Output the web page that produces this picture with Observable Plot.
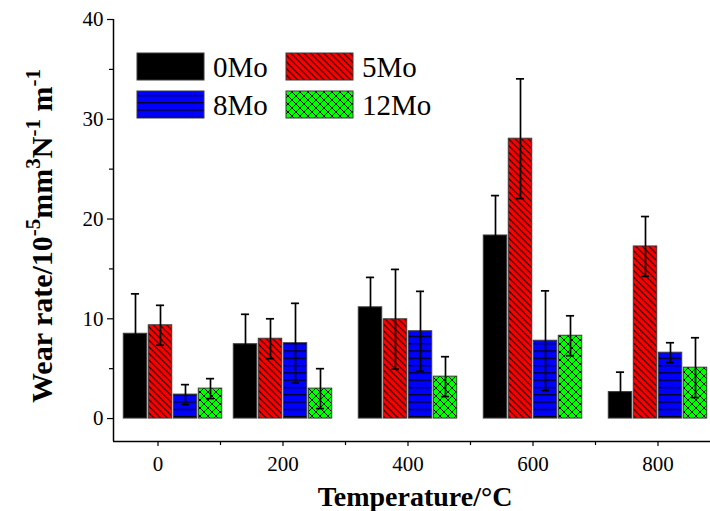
<!DOCTYPE html>
<html>
<head>
<meta charset="utf-8">
<script src="https://cdn.jsdelivr.net/npm/d3@7"></script>
<script src="https://cdn.jsdelivr.net/npm/@observablehq/plot@0.6"></script>
<style>
  html, body { margin: 0; padding: 0; background: #fff; }
  svg { display: block; }
</style>
</head>
<body>
<div id="chart"></div>
<script>
// ---- data ----
const temperatures = [0, 200, 400, 600, 800];
const seriesNames = ["0Mo", "5Mo", "8Mo", "12Mo"];
const wear0Mo  = [8.5, 7.45, 11.15, 18.35, 2.65];
const err0Mo   = [4.0, 3.0, 3.0, 4.0, 2.0];
const wear5Mo  = [9.35, 8.0, 9.95, 28.05, 17.25];
const err5Mo   = [2.0, 2.0, 5.0, 6.0, 3.0];
const wear8Mo  = [2.4, 7.55, 8.75, 7.8, 6.6];
const err8Mo   = [1.0, 4.0, 4.0, 5.0, 1.0];
const wear12Mo = [3.0, 3.0, 4.2, 8.3, 5.1];
const err12Mo  = [1.0, 2.0, 2.0, 2.0, 3.0];
const xTicks = [0, 200, 400, 600, 800];
const xMinorTicks = [100, 300, 500, 700];
const yTicks = [0, 10, 20, 30, 40];
const yMinorTicks = [5, 15, 25, 35];

// ---- layout constants ----
const W = 710, H = 511;
const xDomain = [-71.2, 884];
const yDomain = [-2.3, 40];
const firstGroupShift = 24;           // the 0 °C group sits slightly right of its tick
const barOffsets = [-60, -20, 20, 60]; // in x units, within a group
const barWidth = 37.5;
const capHalf = 6.5;
const fills = ["#000000", "url(#pat5)", "url(#pat8)", "url(#pat12)"];

const values = [wear0Mo, wear5Mo, wear8Mo, wear12Mo];
const errors = [err0Mo, err5Mo, err8Mo, err12Mo];
const rows = [];
seriesNames.forEach((s, si) => {
  temperatures.forEach((t, ti) => {
    const c = (t === 0 ? t + firstGroupShift : t) + barOffsets[si];
    rows.push({series: s, si, t, value: values[si][ti], err: errors[si][ti],
               x1: c - barWidth / 2, x2: c + barWidth / 2, xc: c});
  });
});

const serif = "Liberation Serif, Times New Roman, serif";

const marks = [];
seriesNames.forEach((s, si) => {
  marks.push(Plot.rectY(rows.filter(d => d.si === si), {
    x1: "x1", x2: "x2", y1: 0, y2: "value",
    fill: fills[si], stroke: "#3a3a3a", strokeWidth: 1
  }));
});
marks.push(
  Plot.ruleX(rows, {x: "xc", y1: d => d.value - d.err, y2: d => d.value + d.err, stroke: "#000", strokeWidth: 1.7}),
  Plot.ruleY(rows, {y: d => d.value + d.err, x1: d => d.xc - capHalf, x2: d => d.xc + capHalf, stroke: "#000", strokeWidth: 1.7}),
  Plot.ruleY(rows, {y: d => d.value - d.err, x1: d => d.xc - capHalf, x2: d => d.xc + capHalf, stroke: "#000", strokeWidth: 1.7}),
  Plot.ruleX([xDomain[0]], {y1: yDomain[0], y2: yDomain[1], stroke: "#000", strokeWidth: 1.5}),
  Plot.ruleY([yDomain[0]], {x1: xDomain[0], x2: xDomain[1], stroke: "#000", strokeWidth: 1.5}),
  Plot.axisY(yTicks, {tickSize: 6, tickPadding: 4, fontSize: 21, fontFamily: serif, fill: "#000", label: null, strokeWidth: 1.2}),
  Plot.axisY(yMinorTicks, {tickSize: 4, text: null, label: null, strokeWidth: 1.2}),
  Plot.axisX(xTicks, {anchor: "bottom", tickSize: 5, tickPadding: 10, fontSize: 21, fontFamily: serif, fill: "#000", label: null, strokeWidth: 1.2}),
  Plot.axisX(xMinorTicks, {anchor: "bottom", tickSize: 4, text: null, label: null, strokeWidth: 1.2})
);

const svg = Plot.plot({
  width: W, height: H,
  marginTop: 19, marginBottom: 70, marginLeft: 113, marginRight: 0,
  x: {type: "linear", domain: xDomain},
  y: {domain: yDomain},
  style: {background: "#fff", overflow: "visible"},
  marks
});

// patterns
const defs = d3.create("svg:defs");
const p5 = defs.append("pattern").attr("id", "pat5").attr("patternUnits", "userSpaceOnUse")
  .attr("width", 6.6).attr("height", 6.6);
p5.append("rect").attr("width", 6.6).attr("height", 6.6).attr("fill", "#ff0000");
p5.append("path").attr("d", "M-1,-1L7.6,7.6M-1,5.6L1,7.6M5.6,-1L7.6,1").attr("stroke", "#000").attr("stroke-width", 1.1);
const p8 = defs.append("pattern").attr("id", "pat8").attr("patternUnits", "userSpaceOnUse")
  .attr("width", 10).attr("height", 7.3);
p8.append("rect").attr("width", 10).attr("height", 7.3).attr("fill", "#0000ff");
p8.append("path").attr("d", "M0,0.6H10").attr("stroke", "#000").attr("stroke-width", 1.2);
const p12 = defs.append("pattern").attr("id", "pat12").attr("patternUnits", "userSpaceOnUse")
  .attr("width", 8).attr("height", 8);
p12.append("rect").attr("width", 8).attr("height", 8).attr("fill", "#00ff00");
p12.append("path").attr("d", "M-1,-1L9,9M9,-1L-1,9").attr("stroke", "#000").attr("stroke-width", 1);
svg.insertBefore(defs.node(), svg.firstChild);

const s = d3.select(svg);

// legend
const legendPos = [[137, 53], [286, 53], [137, 91], [286, 91]];
seriesNames.forEach((name, i) => {
  const [lx, ly] = legendPos[i];
  s.append("rect").attr("x", lx).attr("y", ly).attr("width", 67).attr("height", 27)
    .attr("fill", fills[i]).attr("stroke", "#3a3a3a").attr("stroke-width", 1);
  s.append("text").attr("x", lx + 76).attr("y", ly + 24).attr("text-anchor", "start")
    .attr("font-family", serif).attr("font-size", 29).attr("fill", "#000").text(name);
});

// x title
s.append("text").attr("x", 415).attr("y", 506).attr("text-anchor", "middle")
  .attr("font-family", serif).attr("font-size", 28).attr("font-weight", "bold").attr("fill", "#000")
  .text("Temperature/°C");

// y title with superscripts
const yt = s.append("text").attr("transform", "translate(52,236) rotate(-90)")
  .attr("text-anchor", "middle").attr("font-family", serif).attr("font-size", 30)
  .attr("font-weight", "bold").attr("fill", "#000");
const parts = [["Wear rate/10", false], ["-5", true], ["mm", false], ["3", true], ["N", false], ["-1", true], [" m", false], ["-1", true]];
let raised = false;
parts.forEach(([t, sup]) => {
  const ts = yt.append("tspan").text(t);
  if (sup && !raised) { ts.attr("dy", -12).attr("font-size", 21); raised = true; }
  else if (sup) { ts.attr("font-size", 21); }
  else if (!sup && raised) { ts.attr("dy", 12); raised = false; }
});

document.getElementById("chart").appendChild(svg);
</script>
</body>
</html>
